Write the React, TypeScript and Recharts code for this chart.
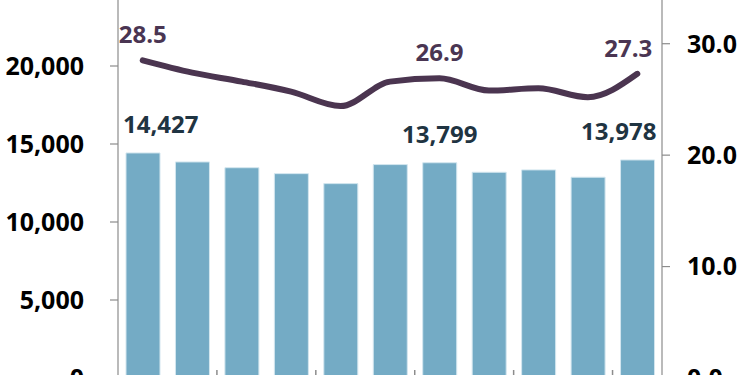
import { ComposedChart, Bar, Line, XAxis, YAxis, LabelList } from 'recharts';

const categories = ['2013', '2014', '2015', '2016', '2017', '2018', '2019', '2020', '2021', '2022', '2023'];
const counts = [14427, 13850, 13480, 13100, 12460, 13680, 13799, 13190, 13340, 12870, 13978];
const rates = [28.5, 27.4, 26.6, 25.7, 24.4, 26.6, 26.9, 25.8, 26.0, 25.2, 27.3];
const leftTicks = [0, 5000, 10000, 15000, 20000, 25000];
const rightTicks = [0, 10, 20, 30];
const labelledIdx = [0, 6, 10];

const data = categories.map((name, i) => ({ name, count: counts[i], rate: rates[i] }));

const W = 750;
const H = 420;
const LEFT_W = 118;
const RIGHT_W = 88;
const band = (W - LEFT_W - RIGHT_W) / categories.length;
const font = '"Open Sans", "Noto Sans", sans-serif';

// tick marks sit on every second category boundary, pointing up into the plot
const XTick = (props: any) => {
  const { x, y, index } = props;
  if (index === 0 || index % 2 !== 0) return <g />;
  const bx = x - band / 2;
  return <line x1={bx} x2={bx} y1={y - 8} y2={y} stroke="#8c8c8c" strokeWidth={1.5} />;
};

const BarLabel = (props: any) => {
  const { x, y, width, index, value } = props;
  if (!labelledIdx.includes(index)) return null;
  let tx = x + width / 2;
  let anchor: 'start' | 'middle' | 'end' = 'middle';
  if (index === 0) {
    tx = x - 3;
    anchor = 'start';
  } else if (index === categories.length - 1) {
    tx = x + width + 2;
    anchor = 'end';
  }
  return (
    <text x={tx} y={y - 20} textAnchor={anchor} fill="#1f3442" fontSize={24} fontWeight={700} fontFamily={font}>
      {Number(value).toLocaleString('en-US')}
    </text>
  );
};

const LineLabel = (props: any) => {
  const { x, y, index, value } = props;
  if (!labelledIdx.includes(index)) return null;
  let tx = x;
  if (index === categories.length - 1) tx = x - 9;
  return (
    <text x={tx} y={y - 17} textAnchor="middle" fill="#4a3552" fontSize={24} fontWeight={700} fontFamily={font}>
      {Number(value).toFixed(1)}
    </text>
  );
};

export default function App() {
  return (
    <div style={{ position: 'absolute', left: 0, top: -12 }}>
      <ComposedChart width={W} height={H} data={data} margin={{ top: 0, right: 0, bottom: 0, left: 0 }}>
        <XAxis
          dataKey="name"
          xAxisId="x"
          height={30}
          axisLine={{ stroke: '#8c8c8c' }}
          tickLine={false}
          tickSize={0}
          tickMargin={0}
          tick={<XTick />}
          interval={0}
        />
        <YAxis
          yAxisId="left"
          orientation="left"
          width={LEFT_W}
          domain={[0, 25000]}
          ticks={leftTicks}
          tickFormatter={(v: number) => v.toLocaleString('en-US')}
          axisLine={{ stroke: '#8c8c8c', strokeWidth: 1.2 }}
          tickLine={{ stroke: '#8c8c8c', strokeWidth: 1.2 }}
          tickSize={8}
          tickMargin={26}
          tick={{ fill: '#000', fontSize: 25, fontWeight: 700, fontFamily: font }}
          interval={0}
        />
        <YAxis
          yAxisId="right"
          orientation="right"
          width={RIGHT_W}
          domain={[0, 35]}
          ticks={rightTicks}
          tickFormatter={(v: number) => v.toFixed(1)}
          axisLine={{ stroke: '#8c8c8c', strokeWidth: 1.2 }}
          tickLine={{ stroke: '#8c8c8c', strokeWidth: 1.2 }}
          tickSize={8}
          tickMargin={17}
          tick={{ fill: '#000', fontSize: 25, fontWeight: 700, fontFamily: font, textAnchor: 'start' }}
          interval={0}
        />
        <Bar
          dataKey="count"
          xAxisId="x"
          yAxisId="left"
          barSize={34}
          fill="#74abc5"
          stroke="#d3e6ef"
          strokeWidth={1}
          isAnimationActive={false}
        >
          <LabelList dataKey="count" content={<BarLabel />} />
        </Bar>
        <Line
          dataKey="rate"
          xAxisId="x"
          yAxisId="right"
          type="monotone"
          stroke="#4b3550"
          strokeWidth={6}
          strokeLinecap="round"
          dot={false}
          activeDot={false}
          isAnimationActive={false}
        >
          <LabelList dataKey="rate" content={<LineLabel />} />
        </Line>
      </ComposedChart>
    </div>
  );
}
